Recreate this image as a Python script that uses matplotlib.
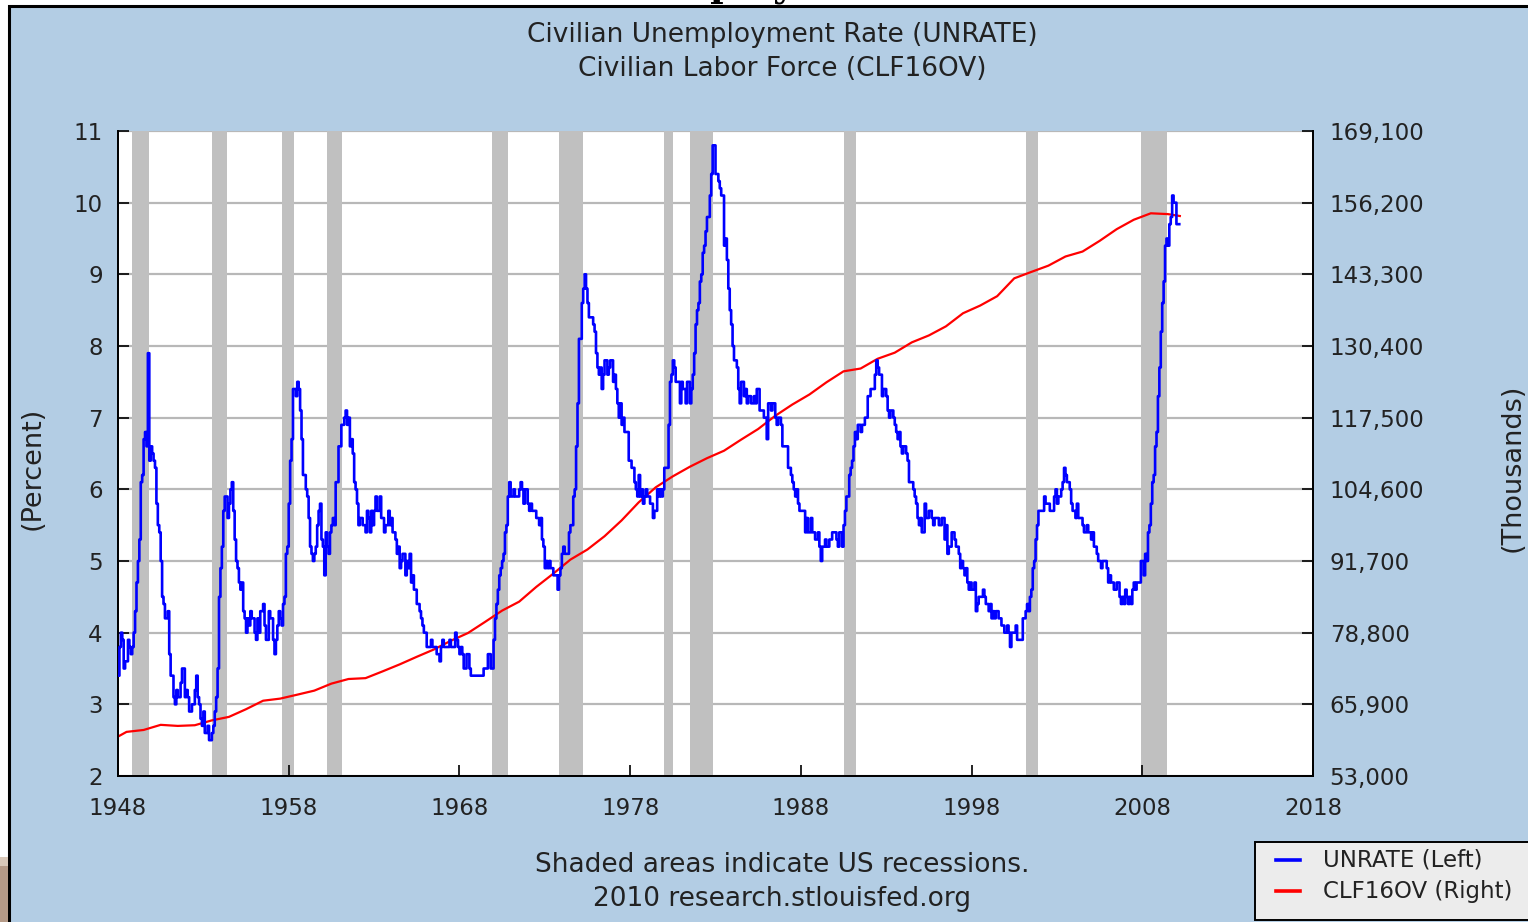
import matplotlib
matplotlib.use("Agg")
import matplotlib.pyplot as plt
from matplotlib.patches import Rectangle
from matplotlib.lines import Line2D
from matplotlib.ticker import FuncFormatter
import numpy as np

# ---------------- data ----------------
start_year = 1948
unrate = [
    3.4, 3.8, 4.0, 3.9, 3.5, 3.6, 3.6, 3.9, 3.8, 3.7, 3.8, 4.0,   # 1948
    4.3, 4.7, 5.0, 5.3, 6.1, 6.2, 6.7, 6.8, 6.6, 7.9, 6.4, 6.6,   # 1949
    6.5, 6.4, 6.3, 5.8, 5.5, 5.4, 5.0, 4.5, 4.4, 4.2, 4.2, 4.3,   # 1950
    3.7, 3.4, 3.4, 3.1, 3.0, 3.2, 3.1, 3.1, 3.3, 3.5, 3.5, 3.1,   # 1951
    3.2, 3.1, 2.9, 2.9, 3.0, 3.0, 3.2, 3.4, 3.1, 3.0, 2.8, 2.7,   # 1952
    2.9, 2.6, 2.6, 2.7, 2.5, 2.5, 2.6, 2.7, 2.9, 3.1, 3.5, 4.5,   # 1953
    4.9, 5.2, 5.7, 5.9, 5.9, 5.6, 5.8, 6.0, 6.1, 5.7, 5.3, 5.0,   # 1954
    4.9, 4.7, 4.6, 4.7, 4.3, 4.2, 4.0, 4.2, 4.1, 4.3, 4.2, 4.2,   # 1955
    4.0, 3.9, 4.2, 4.0, 4.3, 4.3, 4.4, 4.1, 3.9, 3.9, 4.3, 4.2,   # 1956
    4.2, 3.9, 3.7, 3.9, 4.1, 4.3, 4.2, 4.1, 4.4, 4.5, 5.1, 5.2,   # 1957
    5.8, 6.4, 6.7, 7.4, 7.4, 7.3, 7.5, 7.4, 7.1, 6.7, 6.2, 6.2,   # 1958
    6.0, 5.9, 5.6, 5.2, 5.1, 5.0, 5.1, 5.2, 5.5, 5.7, 5.8, 5.3,   # 1959
    5.2, 4.8, 5.4, 5.2, 5.1, 5.4, 5.5, 5.6, 5.5, 6.1, 6.1, 6.6,   # 1960
    6.6, 6.9, 6.9, 7.0, 7.1, 6.9, 7.0, 6.6, 6.7, 6.5, 6.1, 6.0,   # 1961
    5.8, 5.5, 5.6, 5.6, 5.5, 5.5, 5.4, 5.7, 5.6, 5.4, 5.7, 5.5,   # 1962
    5.7, 5.9, 5.7, 5.7, 5.9, 5.6, 5.6, 5.4, 5.5, 5.5, 5.7, 5.5,   # 1963
    5.6, 5.4, 5.4, 5.3, 5.1, 5.2, 4.9, 5.0, 5.1, 5.1, 4.8, 5.0,   # 1964
    4.9, 5.1, 4.7, 4.8, 4.6, 4.6, 4.4, 4.4, 4.3, 4.2, 4.1, 4.0,   # 1965
    4.0, 3.8, 3.8, 3.8, 3.9, 3.8, 3.8, 3.8, 3.7, 3.7, 3.6, 3.8,   # 1966
    3.9, 3.8, 3.8, 3.8, 3.8, 3.9, 3.8, 3.8, 3.8, 4.0, 3.9, 3.8,   # 1967
    3.7, 3.8, 3.7, 3.5, 3.5, 3.7, 3.7, 3.5, 3.4, 3.4, 3.4, 3.4,   # 1968
    3.4, 3.4, 3.4, 3.4, 3.4, 3.5, 3.5, 3.5, 3.7, 3.7, 3.5, 3.5,   # 1969
    3.9, 4.2, 4.4, 4.6, 4.8, 4.9, 5.0, 5.1, 5.4, 5.5, 5.9, 6.1,   # 1970
    5.9, 5.9, 6.0, 5.9, 5.9, 5.9, 6.0, 6.1, 6.0, 5.8, 6.0, 6.0,   # 1971
    5.8, 5.7, 5.8, 5.7, 5.7, 5.7, 5.6, 5.6, 5.5, 5.6, 5.3, 5.2,   # 1972
    4.9, 5.0, 4.9, 5.0, 4.9, 4.9, 4.8, 4.8, 4.8, 4.6, 4.8, 4.9,   # 1973
    5.1, 5.2, 5.1, 5.1, 5.1, 5.4, 5.5, 5.5, 5.9, 6.0, 6.6, 7.2,   # 1974
    8.1, 8.1, 8.6, 8.8, 9.0, 8.8, 8.6, 8.4, 8.4, 8.4, 8.3, 8.2,   # 1975
    7.9, 7.7, 7.6, 7.7, 7.4, 7.6, 7.8, 7.8, 7.6, 7.7, 7.8, 7.8,   # 1976
    7.5, 7.6, 7.4, 7.2, 7.0, 7.2, 6.9, 7.0, 6.8, 6.8, 6.8, 6.4,   # 1977
    6.4, 6.3, 6.3, 6.1, 6.0, 5.9, 6.2, 5.9, 6.0, 5.8, 5.9, 6.0,   # 1978
    5.9, 5.9, 5.8, 5.8, 5.6, 5.7, 5.7, 6.0, 5.9, 6.0, 5.9, 6.0,   # 1979
    6.3, 6.3, 6.3, 6.9, 7.5, 7.6, 7.8, 7.7, 7.5, 7.5, 7.5, 7.2,   # 1980
    7.5, 7.4, 7.4, 7.2, 7.5, 7.5, 7.2, 7.4, 7.6, 7.9, 8.3, 8.5,   # 1981
    8.6, 8.9, 9.0, 9.3, 9.4, 9.6, 9.8, 9.8, 10.1, 10.4, 10.8, 10.8,  # 1982
    10.4, 10.4, 10.3, 10.2, 10.1, 10.1, 9.4, 9.5, 9.2, 8.8, 8.5, 8.3,  # 1983
    8.0, 7.8, 7.8, 7.7, 7.4, 7.2, 7.5, 7.5, 7.3, 7.4, 7.2, 7.3,   # 1984
    7.3, 7.2, 7.2, 7.3, 7.2, 7.4, 7.4, 7.1, 7.1, 7.1, 7.0, 7.0,   # 1985
    6.7, 7.2, 7.2, 7.1, 7.2, 7.2, 7.0, 6.9, 7.0, 7.0, 6.9, 6.6,   # 1986
    6.6, 6.6, 6.6, 6.3, 6.3, 6.2, 6.1, 6.0, 5.9, 6.0, 5.8, 5.7,   # 1987
    5.7, 5.7, 5.7, 5.4, 5.6, 5.4, 5.4, 5.6, 5.4, 5.4, 5.3, 5.3,   # 1988
    5.4, 5.2, 5.0, 5.2, 5.2, 5.3, 5.2, 5.2, 5.3, 5.3, 5.4, 5.4,   # 1989
    5.4, 5.3, 5.2, 5.4, 5.4, 5.2, 5.5, 5.7, 5.9, 5.9, 6.2, 6.3,   # 1990
    6.4, 6.6, 6.8, 6.7, 6.9, 6.9, 6.8, 6.9, 6.9, 7.0, 7.0, 7.3,   # 1991
    7.3, 7.4, 7.4, 7.4, 7.6, 7.8, 7.7, 7.6, 7.6, 7.3, 7.4, 7.4,   # 1992
    7.3, 7.1, 7.0, 7.1, 7.1, 7.0, 6.9, 6.8, 6.7, 6.8, 6.6, 6.5,   # 1993
    6.6, 6.6, 6.5, 6.4, 6.1, 6.1, 6.1, 6.0, 5.9, 5.8, 5.6, 5.5,   # 1994
    5.6, 5.4, 5.4, 5.8, 5.6, 5.6, 5.7, 5.7, 5.6, 5.5, 5.6, 5.6,   # 1995
    5.6, 5.5, 5.5, 5.6, 5.6, 5.3, 5.5, 5.1, 5.2, 5.2, 5.4, 5.4,   # 1996
    5.3, 5.2, 5.2, 5.1, 4.9, 5.0, 4.9, 4.8, 4.9, 4.7, 4.6, 4.7,   # 1997
    4.6, 4.6, 4.7, 4.3, 4.4, 4.5, 4.5, 4.5, 4.6, 4.5, 4.4, 4.4,   # 1998
    4.3, 4.4, 4.2, 4.3, 4.2, 4.3, 4.3, 4.2, 4.2, 4.1, 4.1, 4.0,   # 1999
    4.0, 4.1, 4.0, 3.8, 4.0, 4.0, 4.0, 4.1, 3.9, 3.9, 3.9, 3.9,   # 2000
    4.2, 4.2, 4.3, 4.4, 4.3, 4.5, 4.6, 4.9, 5.0, 5.3, 5.5, 5.7,   # 2001
    5.7, 5.7, 5.7, 5.9, 5.8, 5.8, 5.8, 5.7, 5.7, 5.7, 5.9, 6.0,   # 2002
    5.8, 5.9, 5.9, 6.0, 6.1, 6.3, 6.2, 6.1, 6.1, 6.0, 5.8, 5.7,   # 2003
    5.7, 5.6, 5.8, 5.6, 5.6, 5.6, 5.5, 5.4, 5.4, 5.5, 5.4, 5.4,   # 2004
    5.3, 5.4, 5.2, 5.2, 5.1, 5.0, 5.0, 4.9, 5.0, 5.0, 5.0, 4.9,   # 2005
    4.7, 4.8, 4.7, 4.7, 4.6, 4.6, 4.7, 4.7, 4.5, 4.4, 4.5, 4.4,   # 2006
    4.6, 4.5, 4.4, 4.5, 4.4, 4.6, 4.7, 4.6, 4.7, 4.7, 4.7, 5.0,   # 2007
    5.0, 4.8, 5.1, 5.0, 5.4, 5.5, 5.8, 6.1, 6.2, 6.6, 6.8, 7.3,   # 2008
    7.7, 8.2, 8.6, 8.9, 9.4, 9.5, 9.4, 9.7, 9.8, 10.1, 10.0, 10.0,  # 2009
    9.7, 9.7, 9.7,                                                # 2010
]

# Civilian labor force (thousands): first month, yearly averages, last month
clf_dates = [1948.0] + [y + 0.5 for y in range(1948, 2010)] + [2010.2]
clf_values = [
    60095,
    60941, 61286, 62208, 62017, 62138, 63015, 63643, 65023, 66552, 66929,
    67639, 68369, 69628, 70459, 70614, 71833, 73091, 74455, 75770, 77347,
    78737, 80734, 82771, 84382, 87034, 89429, 91949, 93775, 96158, 99009,
    102251, 104962, 106940, 108670, 110204, 111550, 113544, 115461, 117834, 119865,
    121669, 123869, 125840, 126346, 128105, 129200, 131056, 132304, 133943, 136297,
    137673, 139368, 142583, 143734, 144863, 146510, 147401, 149320, 151428, 153124,
    154287, 154142,
    153800,
]

recessions = [
    (1948.83, 1949.79), (1953.50, 1954.37), (1957.58, 1958.29),
    (1960.25, 1961.12), (1969.92, 1970.87), (1973.83, 1975.21),
    (1980.00, 1980.50), (1981.50, 1982.87), (1990.50, 1991.21),
    (2001.17, 2001.87), (2007.92, 2009.46),
]

x_ticks = [1948, 1958, 1968, 1978, 1988, 1998, 2008, 2018]
left_ticks = [2, 3, 4, 5, 6, 7, 8, 9, 10, 11]
right_ticks = [53000, 65900, 78800, 91700, 104600, 117500, 130400, 143300, 156200, 169100]

title_lines = ["Civilian Unemployment Rate (UNRATE)", "Civilian Labor Force (CLF16OV)"]
footer_lines = ["Shaded areas indicate US recessions.", "2010 research.stlouisfed.org"]
legend_labels = ["UNRATE (Left)", "CLF16OV (Right)"]

# ---------------- figure ----------------
W, H = 1528, 922
fig = plt.figure(figsize=(W / 100, H / 100), dpi=100)
fig.patch.set_facecolor("white")

def fx(px):
    return px / W

def fy(py):
    return 1 - py / H

BG = "#b3cde4"
TXT = "#222222"
FS = 16.5
FT = 19

# background panel with black border
fig.patches.append(Rectangle((fx(9), fy(H + 5)), 1.0, fy(6) - fy(H + 5),
                             transform=fig.transFigure, facecolor=BG,
                             edgecolor="black", linewidth=2.2, zorder=-2))
# small brown strip at lower left
fig.patches.append(Rectangle((0, 0), fx(7.5), fy(857), transform=fig.transFigure,
                             facecolor="#b59a87", edgecolor="none", zorder=-2))
fig.patches.append(Rectangle((0, fy(866)), fx(7.5), fy(857) - fy(866),
                             transform=fig.transFigure,
                             facecolor="#d9c8b9", edgecolor="none", zorder=-2))
# page heading above the chart (only its descenders reach the image)
fig.text(fx(592), fy(-3), "Unemployment", fontsize=26, fontweight="bold",
         family="DejaVu Serif", color="black", va="baseline", ha="left")

ax = fig.add_axes([fx(118), fy(776), fx(1313) - fx(118), fy(131) - fy(776)])
ax2 = ax.twinx()
ax2.set_zorder(1)
ax.set_zorder(2)
ax.patch.set_visible(False)
ax2.patch.set_visible(True)
ax2.patch.set_facecolor("white")

x_un = start_year + np.arange(len(unrate)) / 12.0

for a, b in recessions:
    ax2.axvspan(a, b, color="#c0c0c0", lw=0, zorder=1)

ax2.plot(clf_dates, clf_values, color="#ff0000", lw=1.6, zorder=3)
ax.plot(x_un, unrate, color="#0000ff", lw=1.9, drawstyle="steps-post", zorder=4)

ax.set_xlim(1948, 2018)
ax.set_ylim(2, 11)
ax2.set_ylim(53000, 169100)

ax.set_yticks(left_ticks)
ax2.set_yticks(right_ticks)
ax2.yaxis.set_major_formatter(FuncFormatter(lambda v, p: f"{int(round(v)):,}"))
ax.set_xticks(x_ticks)

ax2.set_axisbelow(True)
ax2.grid(axis="y", color="#b8b8b8", lw=1.6)
ax.grid(False)

for a in (ax, ax2):
    for s in a.spines.values():
        s.set_color("black")
        s.set_linewidth(1.3)
    a.spines["top"].set_visible(False)

ax.tick_params(axis="y", direction="in", length=8, width=1.2, colors="black",
               labelcolor=TXT, labelsize=FS, pad=11)
ax2.tick_params(axis="y", direction="in", length=8, width=1.2, colors="black",
                labelcolor=TXT, labelsize=FS, pad=12)
ax.tick_params(axis="x", direction="in", length=8, width=1.2, colors="black",
               labelcolor=TXT, labelsize=FS, pad=15)

# titles and labels
fig.text(fx(782), fy(35), title_lines[0], ha="center", va="center", fontsize=FT, color=TXT)
fig.text(fx(782), fy(69), title_lines[1], ha="center", va="center", fontsize=FT, color=TXT)
fig.text(fx(782), fy(865), footer_lines[0], ha="center", va="center", fontsize=FT, color=TXT)
fig.text(fx(782), fy(899), footer_lines[1], ha="center", va="center", fontsize=FT, color=TXT)
fig.text(fx(33), fy(468), "(Percent)", rotation=90, ha="center", va="center", fontsize=19.5, color=TXT)
fig.text(fx(1513), fy(468), "(Thousands)", rotation=90, ha="center", va="center", fontsize=19.5, color=TXT)

# legend box
fig.patches.append(Rectangle((fx(1255), fy(920)), fx(1540) - fx(1255), fy(842) - fy(920),
                             transform=fig.transFigure, facecolor="#ececec",
                             edgecolor="black", linewidth=1.4, zorder=5))
for i, (lab, col) in enumerate(zip(legend_labels, ["#0000ff", "#ff0000"])):
    yy = fy(860 + 31 * i)
    fig.lines.append(Line2D([fx(1276), fx(1300)], [yy, yy], transform=fig.transFigure,
                            color=col, lw=2.6, zorder=6))
    fig.text(fx(1323), yy, lab, ha="left", va="center", fontsize=16.5, color=TXT, zorder=6)

fig.savefig("out.png", dpi=100, facecolor=fig.get_facecolor())
